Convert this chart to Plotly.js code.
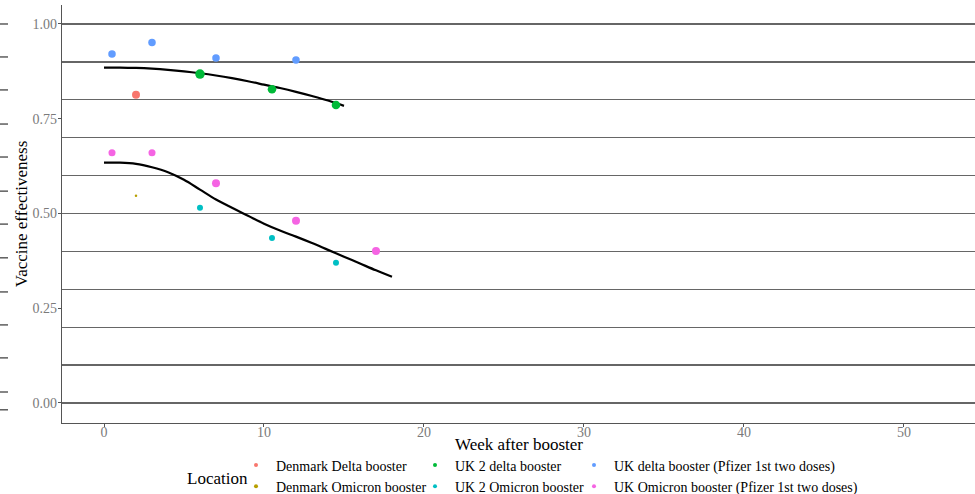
<!DOCTYPE html>
<html>
<head>
<meta charset="utf-8">
<script src="https://cdn.plot.ly/plotly-3.0.1.min.js"></script>
<style>html,body{margin:0;padding:0;background:#fff;}#chart{width:975px;height:494px;}</style>
</head>
<body>
<div id="chart"></div>
<script>
// ---- data ----
const seriesNames = ["Denmark Delta booster", "Denmark Omicron booster", "UK 2 delta booster",
                     "UK 2 Omicron booster", "UK delta booster (Pfizer 1st two doses)", "UK Omicron booster (Pfizer 1st two doses)"];
const seriesColors = ["#F8766D", "#B79F00", "#00BA38", "#00BFC4", "#619CFF", "#F564E3"];

const dkDeltaWeek = [2];
const dkDeltaVE = [0.813];
const dkDeltaWeight = [0.75];

const dkOmicronWeek = [2];
const dkOmicronVE = [0.547];
const dkOmicronWeight = [0.06];

const uk2DeltaWeek = [6, 10.5, 14.5];
const uk2DeltaVE = [0.868, 0.828, 0.786];
const uk2DeltaWeight = [0.94, 0.82, 0.82];

const uk2OmicronWeek = [6, 10.5, 14.5];
const uk2OmicronVE = [0.515, 0.435, 0.370];
const uk2OmicronWeight = [0.5, 0.5, 0.5];

const ukDeltaWeek = [0.5, 3, 7, 12];
const ukDeltaVE = [0.921, 0.951, 0.910, 0.905];
const ukDeltaWeight = [0.69, 0.69, 0.69, 0.69];

const ukOmicronWeek = [0.5, 3, 7, 12, 17];
const ukOmicronVE = [0.660, 0.660, 0.580, 0.481, 0.401];
const ukOmicronWeight = [0.63, 0.63, 0.75, 0.75, 0.75];

// smoothed fits
const deltaFitWeek = [0, 1, 2, 3, 4, 5, 6, 7, 8, 9, 10, 11, 12, 13, 14, 15];
const deltaFitVE = [0.885, 0.885, 0.884, 0.882, 0.879, 0.875, 0.870, 0.864, 0.857, 0.849, 0.840, 0.831, 0.821, 0.810, 0.798, 0.784];
const omicronFitWeek = [0, 1, 2, 3, 4, 5, 6, 7, 8, 9, 10, 11, 12, 13, 14, 15, 16, 17, 18];
const omicronFitVE = [0.634, 0.634, 0.631, 0.622, 0.609, 0.589, 0.563, 0.537, 0.515, 0.494, 0.473, 0.455, 0.439, 0.422, 0.404, 0.386, 0.368, 0.350, 0.333];

const yTickVals = [0, 0.25, 0.5, 0.75, 1.0];
const yTickText = ["0.00", "0.25", "0.50", "0.75", "1.00"];
const xTickVals = [0, 10, 20, 30, 40, 50];
const marginTickVals = [1.0, 0.913, 0.826, 0.736, 0.649, 0.559, 0.472, 0.383, 0.293, 0.206, 0.119, 0.029, -0.018];
const xTitle = "Week after booster";
const yTitle = "Vaccine effectiveness";
const legendTitle = "Location";

// ---- drawing ----
const FONT = "Liberation Serif, Times New Roman, serif";
const sizeScale = w => 2 + 8 * w;
const Y_RANGE = [-0.0528, 1.0501];
const W = 975, PLOT_BOTTOM = 423, PLOT_H = 418, PLOT_LEFT = 62;
const pageToPaperY = py => (PLOT_BOTTOM - py) / PLOT_H;

const pointSeries = [
  [dkDeltaWeek, dkDeltaVE, dkDeltaWeight],
  [dkOmicronWeek, dkOmicronVE, dkOmicronWeight],
  [uk2DeltaWeek, uk2DeltaVE, uk2DeltaWeight],
  [uk2OmicronWeek, uk2OmicronVE, uk2OmicronWeight],
  [ukDeltaWeek, ukDeltaVE, ukDeltaWeight],
  [ukOmicronWeek, ukOmicronVE, ukOmicronWeight]
];

const traces = [];
// helper trace so the grid axis exists
traces.push({x: [0], y: [0], yaxis: "y2", type: "scatter", mode: "markers",
  marker: {opacity: 0}, showlegend: false, hoverinfo: "skip"});
// fits
traces.push({x: deltaFitWeek, y: deltaFitVE, type: "scatter", mode: "lines",
  line: {color: "#000", width: 2.2, shape: "spline"}, showlegend: false, hoverinfo: "skip"});
traces.push({x: omicronFitWeek, y: omicronFitVE, type: "scatter", mode: "lines",
  line: {color: "#000", width: 2.2, shape: "spline"}, showlegend: false, hoverinfo: "skip"});
// points
pointSeries.forEach((s, i) => {
  traces.push({x: s[0], y: s[1], type: "scatter", mode: "markers", name: seriesNames[i],
    marker: {color: seriesColors[i], size: s[2].map(sizeScale), opacity: 1, line: {width: 0}},
    showlegend: false});
});
// legend entries: three columns of two
const legendOf = ["legend", "legend", "legend2", "legend2", "legend3", "legend3"];
seriesNames.forEach((n, i) => {
  traces.push({x: [null], y: [null], type: "scatter", mode: "markers", name: n,
    marker: {color: seriesColors[i], size: 4, opacity: 1}, legend: legendOf[i], showlegend: true, legendrank: i});
});

const legendBase = {
  orientation: "v", xref: "paper", yref: "paper", xanchor: "left", yanchor: "middle",
  y: pageToPaperY(476), bgcolor: "rgba(0,0,0,0)", borderwidth: 0,
  font: {family: FONT, size: 14, color: "#000"}, traceorder: "normal", itemclick: false
};

// small marks at the far left edge
const edgeShapes = marginTickVals.map(v => ({
  type: "line", xref: "paper", yref: "y", x0: 0, x1: 8 / W, y0: v, y1: v,
  line: {color: "#444", width: 1.3}
}));

const layout = {
  width: 975, height: 494,
  margin: {l: 0, r: 0, t: 5, b: 71, autoexpand: false},
  paper_bgcolor: "#fff", plot_bgcolor: "#fff",
  font: {family: FONT, color: "#000"},
  showlegend: true,
  xaxis: {
    domain: [PLOT_LEFT / W, 1], range: [-2.625, 54.44], tickvals: xTickVals,
    ticks: "outside", ticklen: 3, tickcolor: "#555", tickwidth: 1, ticklabelstandoff: -7,
    tickfont: {family: FONT, size: 14, color: "#7a7a7a"},
    showline: true, linecolor: "#555", linewidth: 1.3, showgrid: false, zeroline: false
  },
  yaxis: {
    range: Y_RANGE, tickvals: yTickVals, ticktext: yTickText,
    ticks: "outside", ticklen: 3, tickcolor: "#555", tickwidth: 1, ticklabelstandoff: -2,
    tickfont: {family: FONT, size: 14, color: "#7a7a7a"},
    showline: true, linecolor: "#555", linewidth: 1.3, showgrid: false, zeroline: false,
    title: {text: yTitle, font: {family: FONT, size: 17, color: "#000"}, standoff: 0}
  },
  yaxis2: {
    overlaying: "y", side: "left", range: Y_RANGE, dtick: 0.1, tick0: 0,
    showgrid: true, gridcolor: "#666", gridwidth: 1.3,
    showticklabels: false, ticks: "", showline: false, zeroline: false
  },
  shapes: edgeShapes,
  legend: Object.assign({}, legendBase, {x: 236 / W}),
  legend2: Object.assign({}, legendBase, {x: 415 / W}),
  legend3: Object.assign({}, legendBase, {x: 574 / W}),
  annotations: [{
    text: xTitle, xref: "paper", yref: "paper", x: (PLOT_LEFT + W) / 2 / W, xanchor: "center",
    y: pageToPaperY(444.5), yanchor: "middle", showarrow: false,
    font: {family: FONT, size: 17, color: "#000"}
  }, {
    text: legendTitle, xref: "paper", yref: "paper", x: 185 / W, xanchor: "left",
    y: pageToPaperY(478), yanchor: "middle", showarrow: false,
    font: {family: FONT, size: 17, color: "#000"}
  }]
};

Plotly.newPlot("chart", traces, layout, {displayModeBar: false, staticPlot: true});
</script>
</body>
</html>
